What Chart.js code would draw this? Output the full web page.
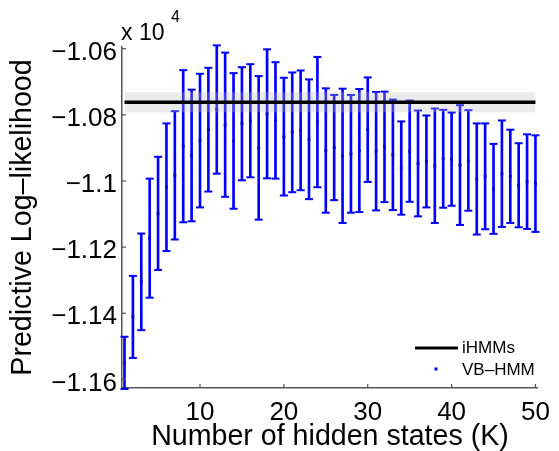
<!DOCTYPE html>
<html>
<head>
<meta charset="utf-8">
<title>Predictive log-likelihood</title>
<script src="https://cdn.jsdelivr.net/npm/chart.js@4.4.1/dist/chart.umd.min.js"></script>
<style>
	body { margin: 0; background: #fff; overflow: hidden; }
	canvas { display: block; }
</style>
</head>
<body>
<canvas id="chart" width="559" height="451"></canvas>
<script>
var kValues = [1, 2, 3, 4, 5, 6, 7, 8, 9, 10,
	11, 12, 13, 14, 15, 16, 17, 18, 19, 20,
	21, 22, 23, 24, 25, 26, 27, 28, 29, 30,
	31, 32, 33, 34, 35, 36, 37, 38, 39, 40,
	41, 42, 43, 44, 45, 46, 47, 48, 49, 50];
var vbMean = [-11550, -11411, -11305, -11173, -11098, -11019, -10983, -10895, -10923, -10878,
	-10845, -10784, -10830, -10879, -10827, -10818, -10900, -10797, -10817, -10866,
	-10853, -10847, -10874, -10822, -10908, -10899, -10924, -10918, -10908, -10845,
	-10910, -10897, -10921, -10961, -10910, -10947, -10941, -10954, -10933, -10934,
	-10952, -10938, -10994, -10986, -11024, -10978, -10986, -11013, -11002, -11008];
var vbErr = [79, 124, 146, 180, 171, 193, 194, 230, 199, 202,
	187, 194, 218, 205, 171, 171, 217, 195, 176, 178,
	181, 181, 181, 197, 188, 159, 203, 178, 186, 158,
	179, 167, 167, 141, 153, 160, 139, 173, 148, 141,
	181, 152, 168, 160, 136, 161, 141, 127, 143, 146];
var ihmmMean = -10762;
var ihmmBand = 30;
var xTicks = [10, 20, 30, 40, 50];
var yTicks = [-10600, -10800, -11000, -11200, -11400, -11600];

var FONT = "'Liberation Sans', Arial, Helvetica, sans-serif";
var BLUE = '#0000ff';

//build datasets from the arrays
var stems = [], caps = [], means = [];
for (var i = 0; i < kValues.length; i++) {
	stems.push({ x: kValues[i], y: [vbMean[i] - vbErr[i], vbMean[i] + vbErr[i]] });
	caps.push({ x: kValues[i], y: vbMean[i] + vbErr[i] });
	caps.push({ x: kValues[i], y: vbMean[i] - vbErr[i] });
	means.push({ x: kValues[i], y: vbMean[i] });
}
var first = kValues[0], last = kValues[kValues.length - 1];

//inward tick marks, exponent label and legend
var extrasPlugin = {
	id: 'extras',
	afterDraw: function (chart) {
		var ctx = chart.ctx;
		var area = chart.chartArea;
		var xs = chart.scales.x, ys = chart.scales.y;
		ctx.save();
		ctx.strokeStyle = '#555';
		ctx.lineWidth = 1.2;
		xs.ticks.forEach(function (t) {
			var px = xs.getPixelForValue(t.value);
			ctx.beginPath();
			ctx.moveTo(px, area.bottom);
			ctx.lineTo(px, area.bottom - 4);
			ctx.stroke();
		});
		ys.ticks.forEach(function (t) {
			var py = ys.getPixelForValue(t.value);
			ctx.beginPath();
			ctx.moveTo(area.left, py);
			ctx.lineTo(area.left + 4, py);
			ctx.stroke();
		});

		//exponent
		ctx.fillStyle = '#000';
		ctx.textBaseline = 'alphabetic';
		ctx.textAlign = 'left';
		ctx.font = '23px ' + FONT;
		ctx.fillText('x 10', 121, 40);
		ctx.font = '16px ' + FONT;
		ctx.fillText('4', 171, 22);

		//legend
		ctx.strokeStyle = '#000';
		ctx.lineWidth = 3;
		ctx.beginPath();
		ctx.moveTo(415, 348);
		ctx.lineTo(458, 348);
		ctx.stroke();
		ctx.fillStyle = BLUE;
		ctx.fillRect(434.5, 367.5, 3, 3);
		ctx.fillStyle = '#000';
		ctx.font = '17px ' + FONT;
		ctx.textBaseline = 'middle';
		ctx.fillText('iHMMs', 462, 348);
		ctx.fillText('VB\u2013HMM', 462, 370);
		ctx.restore();
	}
};

new Chart(document.getElementById('chart'), {
	type: 'bar',
	data: {
		datasets: [
			{
				type: 'line',
				label: 'iHMMs',
				data: [{ x: first, y: ihmmMean }, { x: last, y: ihmmMean }],
				borderColor: '#000',
				borderWidth: 3.5,
				pointRadius: 0,
				order: 0
			},
			{
				type: 'line',
				label: 'band',
				data: [{ x: first, y: ihmmMean + ihmmBand }, { x: last, y: ihmmMean + ihmmBand }],
				fill: { value: ihmmMean - ihmmBand },
				backgroundColor: 'rgba(190,190,190,0.3)',
				borderWidth: 0,
				pointRadius: 0,
				order: 1
			},
			{
				type: 'scatter',
				label: 'VB\u2013HMM',
				data: means,
				pointStyle: 'rect',
				pointRadius: 2,
				backgroundColor: '#0000c8',
				borderWidth: 0,
				clip: false,
				order: 2
			},
			{
				type: 'bar',
				label: 'stems',
				data: stems,
				backgroundColor: BLUE,
				borderWidth: 0,
				barThickness: 2,
				clip: false,
				order: 3
			},
			{
				type: 'scatter',
				label: 'caps',
				data: caps,
				pointStyle: 'line',
				pointRadius: 4,
				borderColor: BLUE,
				borderWidth: 2,
				clip: false,
				order: 3
			}
		]
	},
	options: {
		responsive: false,
		devicePixelRatio: 1,
		animation: false,
		layout: { padding: { top: 47, right: 15, left: 0, bottom: 0 } },
		plugins: {
			legend: { display: false },
			tooltip: { enabled: false }
		},
		scales: {
			x: {
				type: 'linear',
				min: 0.7,
				max: 50.3,
				offset: false,
				grid: { display: false, drawTicks: false, offset: false },
				border: { display: true, color: '#555', width: 1.5 },
				afterBuildTicks: function (s) { s.ticks = xTicks.map(function (v) { return { value: v }; }); },
				afterFit: function (s) { s.height = 63; },
				ticks: {
					padding: 9,
					color: '#000',
					font: { family: FONT, size: 26 },
					maxRotation: 0
				},
				title: {
					display: true,
					text: 'Number of hidden states (K)',
					color: '#000',
					font: { family: FONT, size: 28.6, lineHeight: 1 },
					padding: 0
				}
			},
			y: {
				type: 'linear',
				min: -11626,
				max: -10595,
				beginAtZero: false,
				grid: { display: false, drawTicks: false },
				border: { display: true, color: '#555', width: 1.5 },
				afterBuildTicks: function (s) { s.ticks = yTicks.map(function (v) { return { value: v }; }); },
				afterFit: function (s) { s.width = 122; },
				ticks: {
					padding: 5,
					labelOffset: 4,
					color: '#000',
					font: { family: FONT, size: 26 },
					callback: function (v) { return String(Math.round(v) / 10000).replace('-', '\u2212'); }
				},
				title: {
					display: true,
					text: 'Predictive Log\u2013likelihood',
					color: '#000',
					font: { family: FONT, size: 28.6, lineHeight: 1 },
					padding: { top: 9, bottom: 0 }
				}
			}
		}
	},
	plugins: [extrasPlugin]
});
</script>
</body>
</html>
